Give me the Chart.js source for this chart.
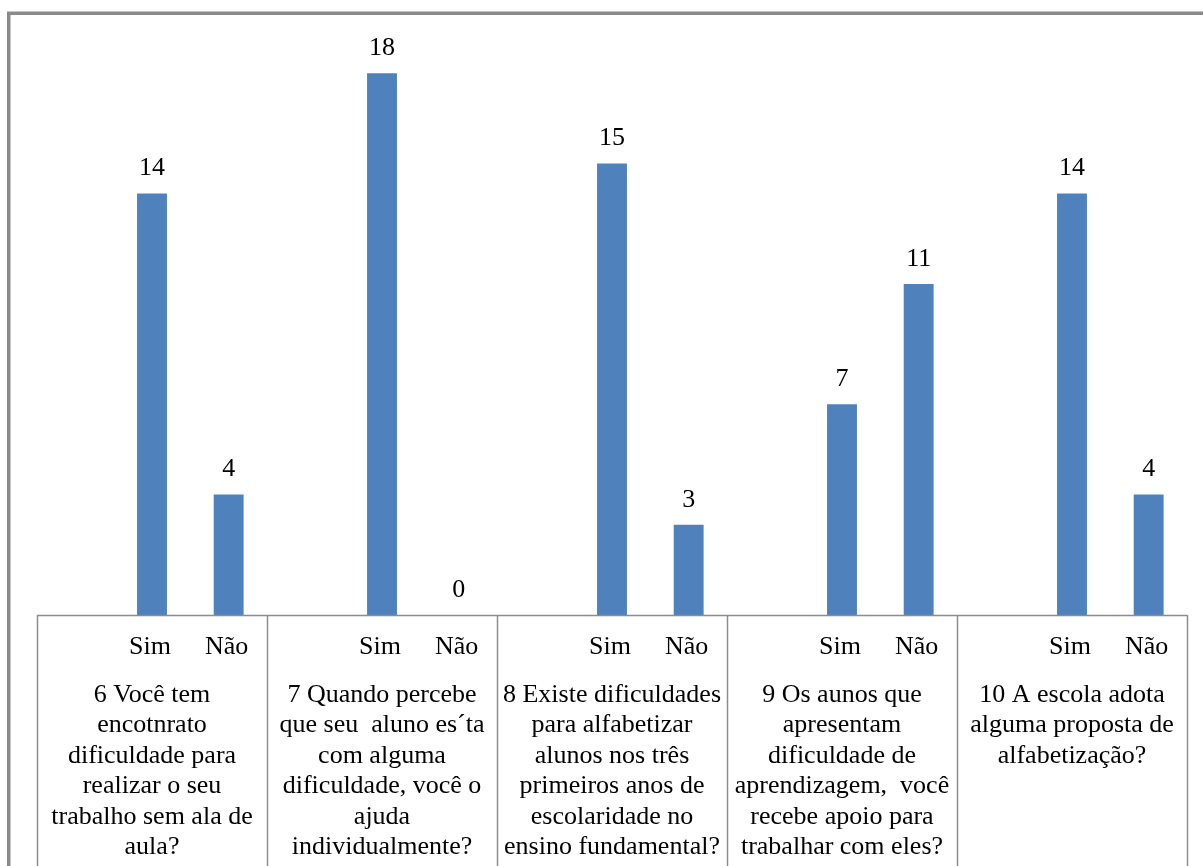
<!DOCTYPE html>
<html>
<head>
<meta charset="utf-8">
<script src="https://cdn.jsdelivr.net/npm/chart.js@4/dist/chart.umd.min.js"></script>
<style>
  html, body { margin: 0; padding: 0; background: #ffffff; }
  #wrap { position: relative; width: 1203px; height: 866px; }
</style>
</head>
<body>
<div id="wrap"><canvas id="chart"></canvas></div>
<script>
// Answer labels for each slot (each question gets a spacer slot, then Sim, Não)
const answerLabels = ["", "Sim", "Não", "", "Sim", "Não", "", "Sim", "Não", "", "Sim", "Não", "", "Sim", "Não"];

// Counts per slot; spacer slots hold no value
const counts = [null, 14, 4, null, 18, 0, null, 15, 3, null, 7, 11, null, 14, 4];

// Question texts, one per group of three slots, already broken into lines
const questionLines = [
  ["6 Você tem", "encotnrato", "dificuldade para", "realizar o seu", "trabalho sem ala de", "aula?"],
  ["7 Quando percebe", "que seu  aluno es\u00b4ta", "com alguma", "dificuldade, você o", "ajuda", "individualmente?"],
  ["8 Existe dificuldades", "para alfabetizar", "alunos nos três", "primeiros anos de", "escolaridade no", "ensino fundamental?"],
  ["9 Os aunos que", "apresentam", "dificuldade de", "aprendizagem,  você", "recebe apoio para", "trabalhar com eles?"],
  ["10 A escola adota", "alguma proposta de", "alfabetização?"]
];

const slotsPerGroup = 3;
const FONT = '26px "Liberation Serif", "Times New Roman", serif';
const GRID = '#8c8c8c';

// Draws the outer frame, the grouped category axis and the value labels
const axisAndLabels = {
  id: 'axisAndLabels',
  beforeDraw(chart) {
    const ctx = chart.ctx;
    ctx.save();
    ctx.strokeStyle = '#8a8a8a';
    ctx.lineWidth = 3.5;
    ctx.beginPath();
    ctx.moveTo(8.75, chart.height);
    ctx.lineTo(8.75, 13.25);
    ctx.lineTo(chart.width, 13.25);
    ctx.stroke();
    ctx.restore();
  },
  afterDraw(chart) {
    const ctx = chart.ctx;
    const x = chart.scales.x;
    const area = chart.chartArea;
    const slotW = (x.getPixelForValue(1) - x.getPixelForValue(0));
    const base = area.bottom;

    ctx.save();
    // baseline
    ctx.strokeStyle = GRID;
    ctx.lineWidth = 1.5;
    ctx.beginPath();
    ctx.moveTo(area.left, base + 0.5);
    ctx.lineTo(area.right, base + 0.5);
    ctx.stroke();

    // group separators
    const nGroups = questionLines.length;
    for (let g = 0; g <= nGroups; g++) {
      const px = Math.round(x.getPixelForValue(g * slotsPerGroup) - slotW / 2) + 0.5;
      ctx.beginPath();
      ctx.moveTo(px, base);
      ctx.lineTo(px, chart.height);
      ctx.stroke();
    }

    ctx.fillStyle = '#000000';
    ctx.font = FONT;
    ctx.textAlign = 'center';
    ctx.textBaseline = 'middle';

    // answer labels
    answerLabels.forEach((lab, i) => {
      if (lab) ctx.fillText(lab, x.getPixelForValue(i) - 2, base + 32);
    });

    // question texts
    questionLines.forEach((lines, g) => {
      const cx = (x.getPixelForValue(g * slotsPerGroup) + x.getPixelForValue(g * slotsPerGroup + slotsPerGroup - 1)) / 2;
      lines.forEach((ln, k) => ctx.fillText(ln, cx, base + 80 + k * 30.5));
    });

    // value labels above the bars
    const meta = chart.getDatasetMeta(0);
    meta.data.forEach((bar, i) => {
      const v = counts[i];
      if (v === null || v === undefined) return;
      ctx.fillText(String(v), bar.x, bar.y - 25);
    });
    ctx.restore();
  }
};

new Chart(document.getElementById('chart'), {
  type: 'bar',
  data: {
    labels: answerLabels,
    datasets: [{
      data: counts,
      backgroundColor: '#4f81bd',
      borderWidth: 0,
      categoryPercentage: 1,
      barPercentage: 0.39
    }]
  },
  options: {
    responsive: true,
    maintainAspectRatio: false,
    animation: false,
    layout: { padding: { left: 37, right: 16, top: 13, bottom: 251 } },
    plugins: { legend: { display: false }, tooltip: { enabled: false } },
    scales: {
      x: { display: false },
      y: { display: false, min: 0, max: 20 }
    }
  },
  plugins: [axisAndLabels]
});
</script>
</body>
</html>
